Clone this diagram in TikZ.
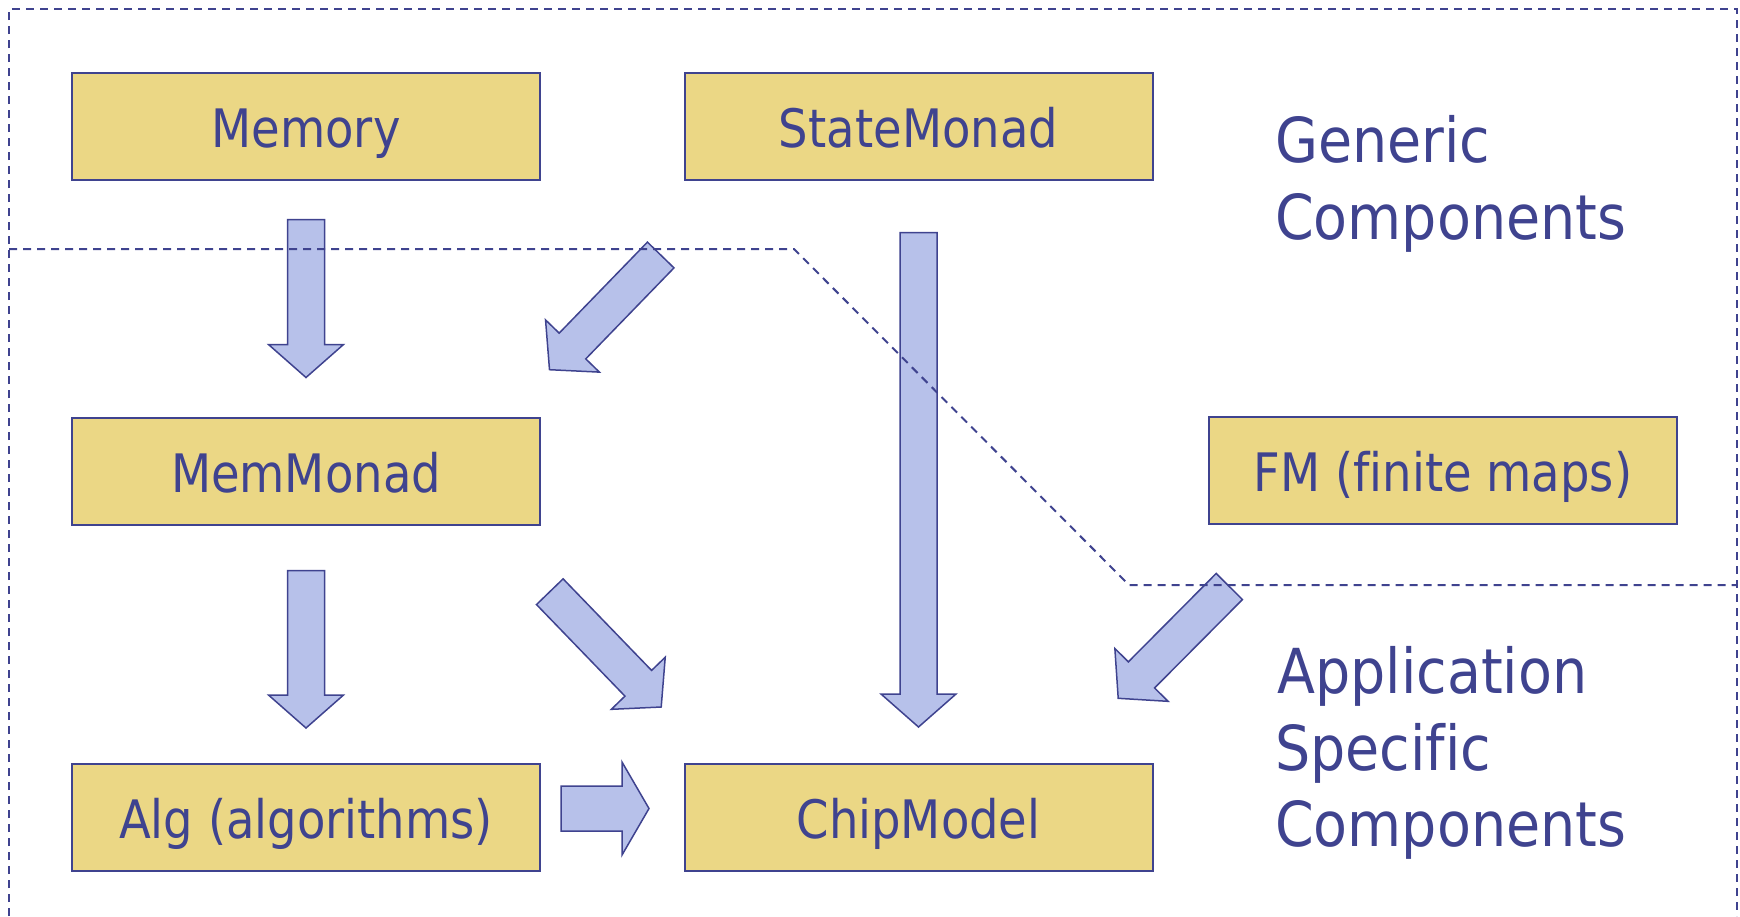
\documentclass[tikz,border=0pt]{standalone}
\usepackage{fontspec}
\setmainfont{DejaVu Sans}[FakeStretch=0.877, Ligatures=CommonOff]
\newfontfamily\lblfont{DejaVu Sans}[FakeStretch=0.895, Ligatures=CommonOff]
\usetikzlibrary{calc}
\definecolor{ink}{HTML}{3F438F}
\definecolor{boxfill}{HTML}{EBD785}
\definecolor{arrfill}{HTML}{B7C1EA}
% #1 tail, #2 tip, #3 shaft half width, #4 head half width, #5 head length
\newcommand{\blockarrow}[5]{%
  \coordinate (ba-h) at ($(#2)!#5!(#1)$);
  \draw[barrow] ($(#1)!#3!90:(#2)$) -- ($(ba-h)!#3!-90:(#1)$) -- ($(ba-h)!#4!-90:(#1)$) -- (#2)
    -- ($(ba-h)!#4!90:(#1)$) -- ($(ba-h)!#3!90:(#1)$) -- ($(#1)!#3!-90:(#2)$) -- cycle;
}
\begin{document}
\begin{tikzpicture}[x=1pt,y=-1pt,
  comp/.style={draw=ink, line width=2pt, fill=boxfill, minimum width=468pt, minimum height=107pt,
    inner sep=0pt, text=ink, font=\fontsize{53}{64}\selectfont, text height=42pt, text depth=0pt},
  lbl/.style={text=ink, inner sep=0pt, anchor=base west, font=\lblfont\fontsize{62}{76}\selectfont},
  barrow/.style={draw=ink, line width=1.5pt, fill=arrfill, line join=miter},
  dline/.style={draw=ink, line width=2pt, dash pattern=on 8pt off 6pt}]
\useasboundingbox (0,0) rectangle (1740,916);

% components
\node[comp] (mem)  at (306,126)    {Memory};
\node[comp] (sm)   at (918.5,126)  {StateMonad};
\node[comp] (mm)   at (306,471)    {MemMonad};
\node[comp] (fm)   at (1443,470)   {FM (finite maps)};
\node[comp] (alg)  at (306,817.5)  {Alg (algorithms)};
\node[comp] (chip) at (918.5,817.5) {ChipModel};

% labels
\node[lbl] (gen1) at (1275,162.5) {Generic};
\node[lbl] (gen2) at (1275,239)   {Components};
\node[lbl] (app1) at (1277,693.5) {Application};
\node[lbl] (app2) at (1275,770)   {Specific};
\node[lbl] (app3) at (1275,846.5) {Components};

% arrow end points
\coordinate (a1s) at ($(mem.south)+(0,39)$);
\coordinate (a1e) at ($(mm.north)+(0,-39)$);
\coordinate (a2s) at ($(mm.south)+(0,45)$);
\coordinate (a2e) at ($(alg.north)+(0,-35)$);
\coordinate (a3s) at ($(sm.south)+(0,52)$);
\coordinate (a3e) at ($(chip.north)+(0,-36)$);
\coordinate (a4s) at (561,808.5);
\coordinate (a4e) at (649,808.5);
\coordinate (d1s) at (660.7,255);
\coordinate (d1e) at (549.5,369.7);
\coordinate (d2s) at (549.8,591.7);
\coordinate (d2e) at (661.2,707);
\coordinate (d3s) at (1229.3,586.5);
\coordinate (d3e) at (1118.2,698.3);

\blockarrow{a1s}{a1e}{18.5pt}{37.5pt}{33pt}
\blockarrow{a2s}{a2e}{18.5pt}{37.5pt}{33pt}
\blockarrow{a3s}{a3e}{18.5pt}{37.5pt}{33pt}
\blockarrow{a4s}{a4e}{22.5pt}{46.5pt}{27pt}
\blockarrow{d1s}{d1e}{18.5pt}{37.5pt}{33pt}
\blockarrow{d2s}{d2e}{18.5pt}{37.5pt}{33pt}
\blockarrow{d3s}{d3e}{18.5pt}{37.5pt}{33pt}

% frame and divider
\draw[dline] (9,916) -- (9,9) -- (1737,9) -- (1737,916);
\draw[dline] (9,249) -- (794,249) -- (1129,585) -- (1737,585);
\end{tikzpicture}
\end{document}
